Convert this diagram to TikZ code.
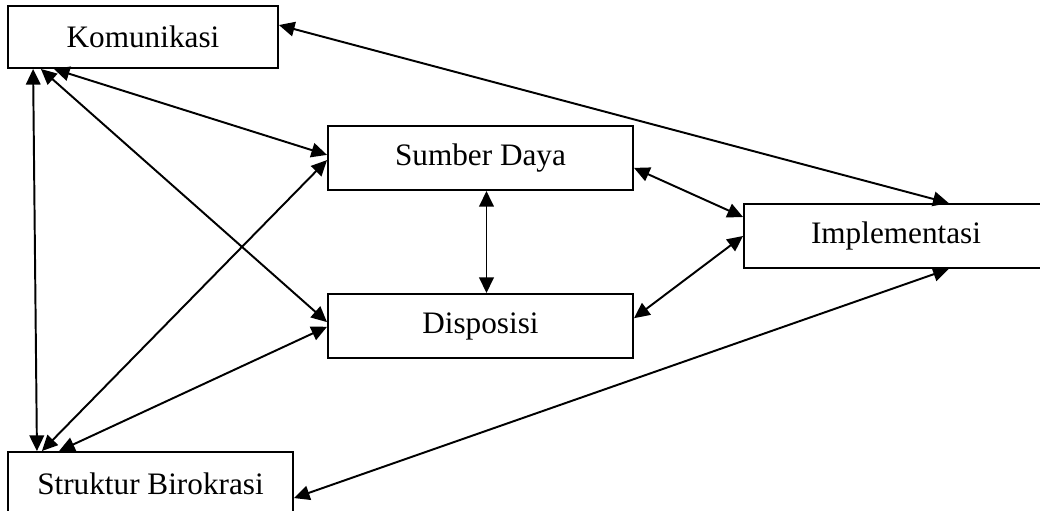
\documentclass[tikz,border=0pt]{standalone}
\usepackage{fontspec}
\setmainfont{Liberation Serif}
\usepackage{tikz}
\usetikzlibrary{arrows.meta}

\tikzset{
 box/.style={draw, line width=0.75pt, inner sep=0pt, minimum height=24.6pt, font=\fontsize{12}{14}\selectfont},
}

\begin{document}
\begin{tikzpicture}[x=0.0135cm, y=-0.0135cm, >={Triangle[length=6pt,width=5.6pt]}, line width=0.75pt]
 \useasboundingbox (0,0) rectangle (1040,510);
 \node[box, minimum width=103.7pt, minimum height=23.8pt] (kom) at (143,37) {Komunikasi};
 \node[box, minimum width=117.2pt] (sd) at (480.5,158) {Sumber Daya};
 \node[box, minimum width=117.2pt] (dis) at (480.5,326) {Disposisi};
 \node[box, minimum width=116.8pt] (imp) at (896,236) {Implementasi};
 \node[box, minimum width=109.5pt] (sb) at (150.5,484) {Struktur Birokrasi};

 \draw[<->] ([yshift=4.6pt]kom.east) -- ([xshift=79pt]imp.north west);
 \draw[<->] ([xshift=10pt]kom.south west) -- ([xshift=11.5pt]sb.north west);
 \draw[<->] ([xshift=13pt]kom.south west) -- ([yshift=1.5pt]dis.west);
 \draw[<->] ([xshift=18pt]kom.south west) -- ([yshift=1.2pt]sd.west);
 \draw[<->] ([xshift=13.4pt]sb.north west) -- ([yshift=-0.8pt]sd.west);
 \draw[<->] ([xshift=20pt]sb.north west) -- ([yshift=-0.3pt]dis.west);
 \draw[<->] ([xshift=2.3pt]sd.south) -- ([xshift=2.3pt]dis.north);
 \draw[<->] ([yshift=-3.8pt]sd.east) -- ([yshift=7.3pt]imp.west);
 \draw[<->] ([yshift=3pt]dis.east) -- (imp.west);
 \draw[<->] ([yshift=-5.4pt]sb.east) -- ([xshift=79pt]imp.south west);
\end{tikzpicture}
\end{document}
